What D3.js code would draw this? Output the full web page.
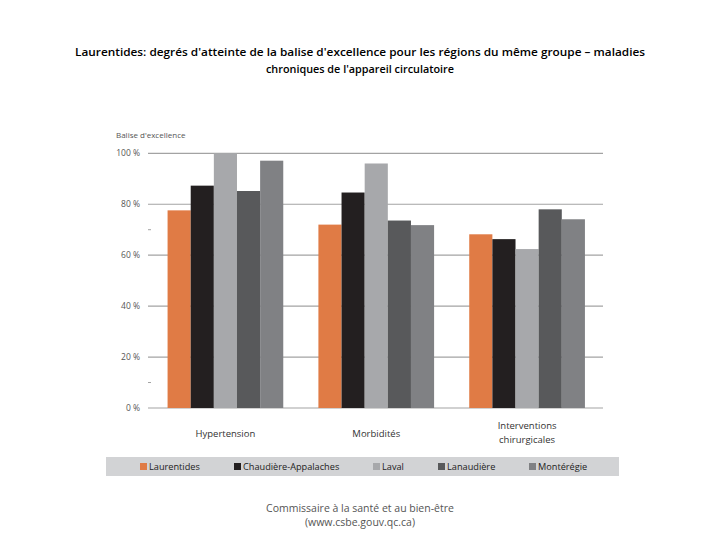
<!DOCTYPE html>
<html>
<head>
<meta charset="utf-8">
<script src="https://cdn.jsdelivr.net/npm/d3@7"></script>
<style>
  html, body { margin: 0; padding: 0; background: #fff; }
  svg { display: block; }
</style>
</head>
<body>
<svg id="chart" width="720" height="540"></svg>
<script>
const categories = ["Hypertension", "Morbidités", "Interventions chirurgicales"];
const categoryLines = [["Hypertension"], ["Morbidités"], ["Interventions", "chirurgicales"]];
const regions = ["Laurentides", "Chaudière-Appalaches", "Laval", "Lanaudière", "Montérégie"];
const colors = ["#e07b45", "#231f20", "#a7a8ab", "#58595b", "#808184"];
const laurentides = [77.6, 72.0, 68.2];
const chaudiere = [87.3, 84.6, 66.3];
const laval = [100, 96.0, 62.4];
const lanaudiere = [85.2, 73.6, 78.0];
const monteregie = [97.1, 71.8, 74.1];
const seriesValues = [laurentides, chaudiere, laval, lanaudiere, monteregie];
const yTicks = [0, 20, 40, 60, 80, 100];
const yTickLabels = ["0 %", "20 %", "40 %", "60 %", "80 %", "100 %"];
const minorTicks = [10, 70];
const yTitle = "Balise d'excellence";
const titleLines = ["Laurentides: degrés d'atteinte de la balise d'excellence pour les régions du même groupe – maladies",
                    "chroniques de l'appareil circulatoire"];
const footerLines = ["Commissaire à la santé et au bien-être", "(www.csbe.gouv.qc.ca)"];

(function () {
const svg = d3.select("#chart");

svg.selectAll("text.title").data(titleLines).join("text")
  .attr("class", "title")
  .attr("x", 360).attr("y", (d, i) => 56 + i * 17)
  .attr("text-anchor", "middle")
  .attr("font-family", "'Open Sans', sans-serif")
  .attr("font-weight", 600)
  .attr("font-size", 11.5)
  .attr("fill", "#000")
  .attr("textLength", (d, i) => i === 0 ? 570 : 188)
  .attr("lengthAdjust", "spacingAndGlyphs")
  .text(d => d);

const plotLeft = 150, plotRight = 602.5, plotTop = 153.3, plotBottom = 408;
const x0 = d3.scaleBand().domain(categories).range([plotLeft, plotRight]).paddingInner(0.233).paddingOuter(0.1165);
const x1 = d3.scaleBand().domain(regions).range([0, x0.bandwidth()]).padding(0);
const y = d3.scaleLinear().domain([0, 100]).range([plotBottom, plotTop]);

svg.append("g").selectAll("line").data(yTicks).join("line")
  .attr("x1", 148).attr("x2", 603)
  .attr("y1", d => y(d)).attr("y2", d => y(d))
  .attr("stroke", "#a3a3a3").attr("stroke-width", 1.2);

svg.append("g").selectAll("line").data(minorTicks).join("line")
  .attr("x1", 148).attr("x2", 151)
  .attr("y1", d => y(d)).attr("y2", d => y(d))
  .attr("stroke", "#a3a3a3").attr("stroke-width", 1);

svg.append("g").selectAll("text").data(yTicks).join("text")
  .attr("x", 140).attr("y", d => y(d) + 3)
  .attr("text-anchor", "end")
  .attr("font-family", "'Open Sans', sans-serif")
  .attr("font-size", 8.5)
  .attr("fill", "#555")
  .text((d, i) => yTickLabels[i]);

svg.append("text")
  .attr("x", 116).attr("y", 138)
  .attr("font-family", "'Open Sans', sans-serif")
  .attr("font-size", 8)
  .attr("fill", "#555")
  .text(yTitle);

const groups = svg.append("g").selectAll("g").data(categories).join("g")
  .attr("transform", d => `translate(${x0(d)},0)`);
groups.selectAll("rect").data((c, ci) => regions.map((r, ri) => ({ r, ri, v: seriesValues[ri][ci] })))
  .join("rect")
  .attr("x", d => x1(d.r))
  .attr("width", x1.bandwidth())
  .attr("y", d => y(d.v))
  .attr("height", d => plotBottom - y(d.v))
  .attr("fill", d => colors[d.ri]);

categories.forEach((c, i) => {
  const lines = categoryLines[i];
  const baseY = lines.length === 1 ? 437 : 429;
  svg.append("g").selectAll("text").data(lines).join("text")
    .attr("x", x0(c) + x0.bandwidth() / 2)
    .attr("y", (d, j) => baseY + j * 14)
    .attr("text-anchor", "middle")
    .attr("font-family", "'Open Sans', sans-serif")
    .attr("font-size", 9.5)
    .attr("fill", "#333")
    .text(d => d);
});

svg.append("rect").attr("x", 106).attr("y", 457).attr("width", 513).attr("height", 19).attr("fill", "#d2d3d5");
const legendX = [140, 234, 373, 438, 529];
const lg = svg.append("g").selectAll("g").data(regions).join("g")
  .attr("transform", (d, i) => `translate(${legendX[i]},463)`);
lg.append("rect").attr("width", 7).attr("height", 7).attr("fill", (d, i) => colors[i]);
lg.append("text").attr("x", 9).attr("y", 7)
  .attr("font-family", "'Open Sans', sans-serif")
  .attr("font-size", 9.2)
  .attr("fill", "#222")
  .text(d => d);

svg.selectAll("text.footer").data(footerLines).join("text")
  .attr("class", "footer")
  .attr("x", 360).attr("y", (d, i) => 512 + i * 14)
  .attr("text-anchor", "middle")
  .attr("font-family", "'Open Sans', sans-serif")
  .attr("font-size", 10.5)
  .attr("fill", "#555")
  .text(d => d);
})();
</script>
</body>
</html>
